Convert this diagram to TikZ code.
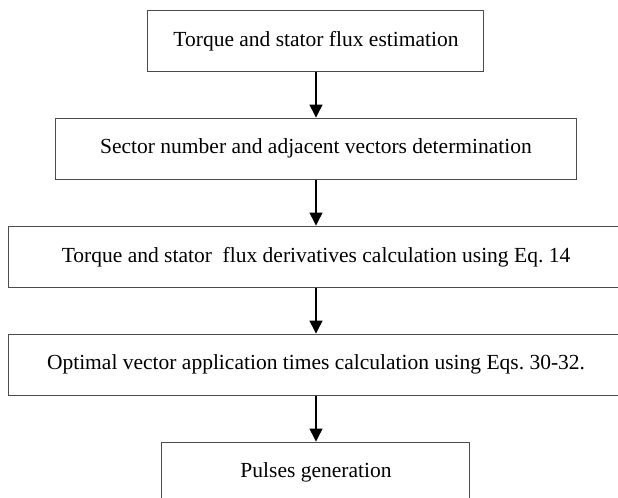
\documentclass[tikz,border=0pt]{standalone}
\usepackage{fontspec}
\setmainfont{Liberation Serif}
\usetikzlibrary{arrows.meta,positioning}

\begin{document}
\begin{tikzpicture}[
  node distance=22.75pt,
  block/.style={draw=black!70, line width=0.5pt, minimum height=30.75pt, inner sep=0pt, align=center, font=\fontsize{10.75}{13}\selectfont},
  arrow/.style={-{Triangle[length=6.5pt, width=6.5pt]}, line width=0.6pt}
]
  \useasboundingbox (0,0) rectangle (309pt,-249pt);
  \clip (0,0) rectangle (309pt,-249pt);
  \node[block, minimum width=168pt] (estim) at (158pt,-20.4pt) {Torque and stator flux estimation};
  \node[block, minimum width=260.5pt, below=of estim] (sector) {Sector number and adjacent vectors determination};
  \node[block, minimum width=307pt, below=of sector] (deriv) {Torque and stator\ \ flux derivatives calculation using Eq.\ 14};
  \node[block, minimum width=307pt, below=of deriv] (times) {Optimal vector application times calculation using Eqs.\ 30-32.};
  \node[block, minimum width=154pt, below=of times] (pulses) {Pulses generation};
  \draw[arrow] (estim) -- (sector);
  \draw[arrow] (sector) -- (deriv);
  \draw[arrow] (deriv) -- (times);
  \draw[arrow] (times) -- (pulses);
\end{tikzpicture}
\end{document}
